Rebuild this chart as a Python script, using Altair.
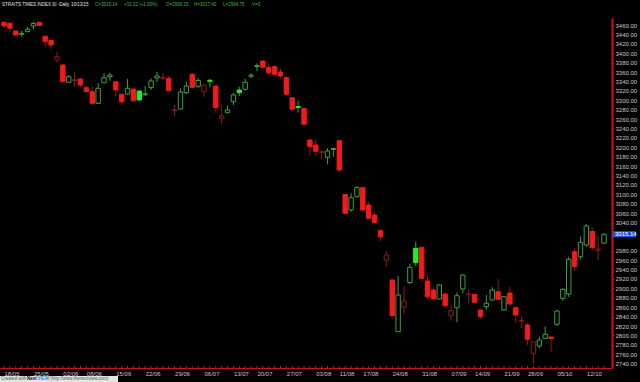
import altair as alt
import pandas as pd

# ---------------- data ----------------
opens = [3465.7, 3463.6, 3447.2, 3440.2, 3445.8, 3457.9, 3465.7, 3436.0, 3427.0, 3385.6,
         3375.0, 3338.2, 3342.0, 3345.2, 3326.7, 3318.2, 3293.5, 3337.3, 3350.1, 3339.4,
         3312.7, 3313.3, 3323.9, 3319.7, 3311.8, 3326.7, 3347.3, 3346.7, 3346.7, 3278.2,
         3281.4, 3316.1, 3355.2, 3329.7, 3318.2, 3342.4, 3330.3, 3261.6, 3273.5, 3296.9,
         3321.8, 3323.3, 3351.1, 3371.8, 3383.5, 3370.1, 3371.3, 3360.1, 3348.8, 3305.4,
         3286.7, 3282.5, 3215.5, 3204.9, 3189.3, 3178.7, 3195.3, 3214.0, 3100.0, 3066.6,
         3094.9, 3114.1, 3077.3, 3056.0, 3023.5, 2960.3, 2917.8, 2807.9, 2859.8, 2912.5,
         2985.2, 2987.3, 2915.7, 2896.5, 2877.4, 2888.0, 2841.9, 2858.9, 2898.7, 2886.3,
         2887.4, 2854.0, 2861.0, 2875.3, 2892.9, 2854.0, 2890.2, 2858.9, 2830.6, 2822.1,
         2761.9, 2777.5, 2793.8, 2796.6, 2823.6, 2878.9, 2888.0, 2978.0, 2967.3, 2992.2,
         3020.9, 2981.0, 2996.15]
highs = [3468.5, 3465.3, 3449.4, 3447.2, 3456.4, 3467.0, 3467.4, 3437.7, 3431.3, 3403.2,
         3376.0, 3353.7, 3360.7, 3346.3, 3330.3, 3328.2, 3336.0, 3357.3, 3358.6, 3340.9,
         3313.3, 3345.2, 3325.0, 3320.7, 3330.3, 3346.7, 3360.1, 3358.6, 3352.6, 3289.9,
         3325.4, 3339.9, 3357.3, 3347.3, 3333.5, 3345.2, 3331.4, 3287.8, 3288.4, 3316.1,
         3328.8, 3345.2, 3357.3, 3378.6, 3384.5, 3377.1, 3375.0, 3366.5, 3349.4, 3306.3,
         3299.0, 3283.5, 3216.5, 3217.0, 3193.2, 3197.8, 3199.1, 3214.8, 3100.7, 3102.2,
         3117.7, 3114.9, 3084.3, 3063.0, 3024.1, 2980.1, 2918.9, 2926.3, 2904.4, 2952.5,
         2998.6, 2988.0, 2928.4, 2903.5, 2908.2, 2891.6, 2864.6, 2891.6, 2930.6, 2898.0,
         2888.0, 2855.1, 2885.9, 2902.3, 2919.9, 2883.8, 2903.5, 2859.8, 2841.3, 2827.0,
         2787.5, 2797.2, 2818.9, 2797.2, 2854.0, 2900.2, 2967.3, 2985.2, 3010.3, 3036.9,
         3029.4, 3011.4, 3017.40]
lows = [3453.6, 3444.1, 3436.6, 3434.5, 3445.1, 3450.9, 3457.9, 3412.2, 3408.3, 3380.7,
        3338.8, 3337.7, 3328.8, 3327.5, 3317.5, 3292.7, 3292.0, 3336.7, 3341.6, 3309.0,
        3289.9, 3312.2, 3298.4, 3299.5, 3309.0, 3321.8, 3338.8, 3341.6, 3319.7, 3266.5,
        3280.3, 3313.3, 3326.7, 3325.4, 3306.3, 3327.5, 3273.5, 3248.9, 3272.3, 3289.9,
        3309.0, 3320.3, 3346.7, 3362.2, 3365.8, 3352.2, 3353.7, 3346.7, 3309.7, 3275.7,
        3273.5, 3247.4, 3182.5, 3181.5, 3174.0, 3163.8, 3180.0, 3146.8, 3058.1, 3063.0,
        3092.8, 3065.6, 3048.1, 3039.0, 3000.7, 2946.9, 2841.3, 2807.2, 2847.0, 2908.7,
        2946.9, 2920.6, 2877.4, 2876.3, 2876.3, 2859.8, 2831.3, 2827.9, 2889.5, 2868.3,
        2869.5, 2834.9, 2854.0, 2874.2, 2875.9, 2852.5, 2863.2, 2826.4, 2815.1, 2779.6,
        2740.7, 2772.6, 2792.3, 2765.3, 2820.6, 2873.8, 2881.7, 2937.6, 2961.4, 2988.0,
        2982.7, 2960.3, 2994.75]
closes = [3457.9, 3453.0, 3438.7, 3441.9, 3450.9, 3463.2, 3458.9, 3424.5, 3417.5, 3392.6,
          3339.4, 3350.1, 3343.7, 3332.4, 3318.2, 3293.5, 3325.4, 3348.0, 3353.7, 3321.8,
          3296.9, 3325.4, 3299.0, 3300.5, 3313.9, 3340.9, 3351.6, 3348.4, 3320.3, 3279.9,
          3317.5, 3330.3, 3327.5, 3342.0, 3332.4, 3340.3, 3284.2, 3266.5, 3279.3, 3311.2,
          3316.1, 3338.2, 3353.3, 3373.9, 3370.1, 3358.6, 3355.2, 3351.6, 3312.7, 3280.8,
          3284.6, 3248.9, 3201.2, 3191.5, 3190.8, 3192.1, 3197.4, 3151.7, 3059.6, 3092.8,
          3114.1, 3066.6, 3049.0, 3039.6, 3009.2, 2971.0, 2841.9, 2885.9, 2873.1, 2944.8,
          2954.6, 2921.4, 2882.3, 2877.4, 2907.2, 2863.2, 2852.5, 2884.4, 2928.4, 2888.0,
          2870.4, 2839.8, 2868.3, 2896.5, 2876.8, 2882.3, 2866.8, 2843.4, 2832.1, 2791.7,
          2786.6, 2790.2, 2802.4, 2793.4, 2851.9, 2898.0, 2961.8, 2946.1, 2998.0, 3032.6,
          2986.5, 2983.92, 3015.14]
# R = down filled, r = down hollow, G = up hollow, g = up filled
kinds = list("RRRGGGRRRr" "RGrRRRGGGR" "RGRgGGGrRr" "GGRGrgRrGG" "gGGGRRRRRR"
             "gRRRrGGRRG" "GRRRRrRGrG" "gRRRGRrGGr" "RRGGRGRRrR" "rGGRGGGRGG" "RrG")

tick_idx = [0, 5, 10, 14, 19, 24, 29, 34, 39, 43, 48, 53, 57, 61, 66, 71, 76, 80, 85, 89, 94, 99]
tick_lbl = ["18/05", "25/05", "02/06", "08/06", "15/06", "22/06", "29/06", "06/07", "13/07",
            "20/07", "27/07", "03/08", "11/08", "17/08", "24/08", "31/08", "07/09", "14/09",
            "21/09", "28/09", "05/10", "12/10"]
y_ticks = list(range(2740, 3461, 20))

header_parts = ["STRAITS TIMES INDEX.SI -Daily", "10/13/15", "C=3015.14", "+31.22 (+1.05%)",
                "O=2996.15", "H=3017.40", "L=2994.75", "V=0"]
badge_parts = ["Created with", "Next", "VIEW", "(http://www.thenextview.com)"]
last_close = 3015.14

# ---------------- styling ----------------
BRIGHT_RED = "#f21a1a"
DARK_RED = "#8e1c1c"
GREEN = "#3fa03f"
BRIGHT_GREEN = "#22ee22"
AXIS_RED = "#c81414"
LABEL = "#c8c8c8"
FONT = "'Liberation Sans Narrow', 'Liberation Sans', sans-serif"

fill_map = {"R": BRIGHT_RED, "g": BRIGHT_GREEN, "G": "#000000", "r": "#000000"}
stroke_map = {"R": BRIGHT_RED, "g": BRIGHT_GREEN, "G": GREEN, "r": DARK_RED}
wick_map = {"R": DARK_RED, "r": DARK_RED, "G": GREEN, "g": GREEN}

df = pd.DataFrame({
    "i": list(range(len(opens))),
    "o": opens, "h": highs, "l": lows, "c": closes, "k": kinds,
})
df["fill"] = df["k"].map(fill_map)
df["stroke"] = df["k"].map(stroke_map)
df["wick"] = df["k"].map(wick_map)

W, H = 612, 350
xs = alt.Scale(domain=[0.167, 102.51], nice=False, zero=False)
ys = alt.Scale(domain=[2730.7, 3474.9], nice=False, zero=False)

label_expr = ("[" + ",".join(f"'{t}'" for t in tick_lbl) + "][indexof(["
              + ",".join(str(t) for t in tick_idx) + "], datum.value)]")
# the price tag hides the axis labels that it covers
y_label_expr = f"abs(datum.value - {last_close}) < 20 ? '' : format(datum.value, '.2f')"

x_axis = alt.Axis(
    values=tick_idx, labelExpr=label_expr, title=None, grid=False,
    domainColor=AXIS_RED, domainWidth=1, ticks=False,
    labelColor=LABEL, labelFont=FONT, labelFontSize=6, labelAlign="left",
    labelPadding=2, labelOverlap=False, labelBound=False, labelFlush=False)
y_axis = alt.Axis(
    orient="right", values=y_ticks, labelExpr=y_label_expr, title=None, grid=False,
    domainColor=AXIS_RED, domainWidth=2, tickColor=AXIS_RED, tickSize=2,
    labelColor=LABEL, labelFont=FONT, labelFontSize=6, labelPadding=1,
    labelOverlap=False, labelFlush=False)

base = alt.Chart(df)

wicks = base.mark_rule(strokeWidth=1, clip=True).encode(
    x=alt.X("i:Q", scale=xs, axis=x_axis),
    y=alt.Y("l:Q", scale=ys, axis=y_axis),
    y2="h:Q",
    color=alt.Color("wick:N", scale=None),
)

bodies = base.mark_bar(size=4.4, strokeWidth=1, clip=True).encode(
    x=alt.X("i:Q", scale=xs, axis=x_axis),
    y=alt.Y("o:Q", scale=ys, axis=y_axis),
    y2="c:Q",
    fill=alt.Fill("fill:N", scale=None),
    stroke=alt.Stroke("stroke:N", scale=None),
)

day_ticks = base.mark_rule(color=AXIS_RED, strokeWidth=1).encode(
    x=alt.X("i:Q", scale=xs, axis=x_axis),
    y=alt.value(H - 2),
    y2=alt.value(H),
)

one = alt.Chart(pd.DataFrame({"a": [0]}))

header_x = [2, 71, 95, 124, 166, 194, 223, 252]
header_layers = []
for j, (txt, hx) in enumerate(zip(header_parts, header_x)):
    col = "#e6e6e6" if j < 2 else "#3dbb3d"
    header_layers.append(one.mark_text(
        text=txt, align="left", baseline="middle", font=FONT, fontSize=4.5,
        color=col).encode(x=alt.value(hx), y=alt.value(-13.5)))

tag_rect = one.mark_rect(color="#1f55d8").encode(
    x=alt.value(613), x2=alt.value(636),
    y=alt.YDatum(last_close + 6.5, scale=ys, axis=y_axis),
    y2=alt.Y2Datum(last_close - 6.5),
)
tag_text = one.mark_text(
    text=f"{last_close:.2f}", align="left", baseline="middle", font=FONT,
    fontSize=6, color="#ffffff").encode(
    x=alt.value(615), y=alt.YDatum(last_close, scale=ys, axis=y_axis))

badge_rect = one.mark_rect(color="#e4e4e4").encode(
    x=alt.value(0), x2=alt.value(118), y=alt.value(358), y2=alt.value(364))
badge_x = [1, 27, 37.5, 50]
badge_col = ["#555555", "#111111", "#2a8fd0", "#555555"]
badge_w = ["normal", "bold", "bold", "normal"]
badge_layers = [one.mark_text(text=t, align="left", baseline="middle", font=FONT,
                              fontSize=4.5, color=c, fontWeight=fw).encode(
    x=alt.value(bx), y=alt.value(361.3))
    for t, bx, c, fw in zip(badge_parts, badge_x, badge_col, badge_w)]

chart = alt.layer(
    wicks, bodies, day_ticks, tag_rect, tag_text, *header_layers, badge_rect, *badge_layers
).properties(
    width=W, height=H,
    padding={"left": 0, "top": 18, "right": 28, "bottom": 14},
    autosize="none",
    background="#000000",
).configure_view(stroke=None)

chart.save("out.html", embed_options={"renderer": "svg", "actions": False})
